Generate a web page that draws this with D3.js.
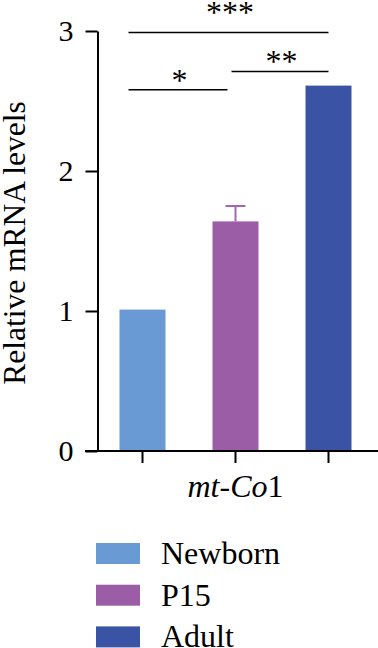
<!DOCTYPE html>
<html>
<head>
<meta charset="utf-8">
<script src="https://cdn.jsdelivr.net/npm/d3@7"></script>
</head>
<body style="margin:0">
<script>
const categories = ["Newborn", "P15", "Adult"];
const values = [1.01, 1.64, 2.61];
const errors = [0, 0.11, 0];
const colors = ["#6a9ad3", "#9b5ea6", "#3a53a4"];
const yTicks = [0, 1, 2, 3];
const geneLabel = ["mt", "-Co1"];
// significance brackets: [from, to, stars, level]
const sigPairs = [
  ["Newborn", "P15", "*", 2.58],
  ["P15", "Adult", "**", 2.71],
  ["Newborn", "Adult", "***", 2.99]
];

const width = 378, height = 648;
const fontFam = "Liberation Serif, Tinos, Times New Roman, serif";

const svg = d3.select("body").append("svg")
  .attr("width", width)
  .attr("height", height);

const y = d3.scaleLinear().domain([0, 3]).range([451, 31]);
const x = d3.scalePoint().domain(categories).range([96, 375]).padding(0.5);
const barW = 46;
const color = d3.scaleOrdinal(categories, colors);

// y axis
const yAxis = svg.append("g")
  .attr("transform", "translate(97.5,0)")
  .call(d3.axisLeft(y).tickValues(yTicks).tickFormat(d3.format("d")).tickSize(12).tickSizeOuter(0));
yAxis.attr("font-family", null).attr("font-size", null);
yAxis.select(".domain").attr("stroke-width", 2);
yAxis.selectAll(".tick line").attr("stroke-width", 2);
yAxis.selectAll(".tick text")
  .attr("x", -24)
  .attr("fill", "#000")
  .style("font-family", fontFam)
  .style("font-size", "30px");

// bars
svg.append("g").selectAll("rect")
  .data(categories)
  .join("rect")
  .attr("x", d => x(d) - barW / 2)
  .attr("y", (d, i) => y(values[i]))
  .attr("width", barW)
  .attr("height", (d, i) => y(0) - y(values[i]))
  .attr("fill", d => color(d));

// error bars
const eb = svg.append("g")
  .selectAll("g")
  .data(categories.filter((d, i) => errors[i] > 0))
  .join("g")
  .attr("stroke", "#a465b2")
  .attr("stroke-width", 2);
const errTop = d => y(values[categories.indexOf(d)] + errors[categories.indexOf(d)]);
eb.append("line")
  .attr("x1", d => x(d)).attr("x2", d => x(d))
  .attr("y1", d => y(values[categories.indexOf(d)]))
  .attr("y2", errTop);
eb.append("line")
  .attr("x1", d => x(d) - 10).attr("x2", d => x(d) + 10)
  .attr("y1", errTop).attr("y2", errTop);

// x axis
const xAxis = svg.append("g")
  .attr("transform", `translate(0,${y(0)})`);
xAxis.append("line")
  .attr("x1", 85).attr("x2", width)
  .attr("stroke", "#000").attr("stroke-width", 2);
xAxis.selectAll(".xt")
  .data(categories)
  .join("line")
  .attr("class", "xt")
  .attr("x1", d => x(d)).attr("x2", d => x(d))
  .attr("y1", 0).attr("y2", 12)
  .attr("stroke", "#000").attr("stroke-width", 2);

const gene = svg.append("text")
  .attr("x", x("P15"))
  .attr("y", 497)
  .attr("text-anchor", "middle")
  .attr("fill", "#000")
  .style("font-family", fontFam)
  .style("font-size", "32px");
gene.append("tspan").style("font-style", "italic").text(geneLabel[0]);
gene.append("tspan").text("-");
gene.append("tspan").style("font-style", "italic").text("Co");
gene.append("tspan").text("1");

// y label
svg.append("text")
  .attr("transform", `translate(25,243) rotate(-90)`)
  .attr("text-anchor", "middle")
  .attr("fill", "#000")
  .style("font-family", fontFam)
  .style("font-size", "31.5px")
  .text("Relative mRNA levels");

// significance
const leftOff = { "Newborn": -14, "P15": -4 };
const rightOff = { "P15": -8, "Adult": 0 };
const starLift = { "*": -1, "**": 0, "***": 9 };
const sig = svg.append("g").selectAll("g").data(sigPairs).join("g");
sig.append("line")
  .attr("x1", d => x(d[0]) + leftOff[d[0]])
  .attr("x2", d => x(d[1]) + rightOff[d[1]])
  .attr("y1", d => y(d[3])).attr("y2", d => y(d[3]))
  .attr("stroke", "#000").attr("stroke-width", 1.5);
sig.append("text")
  .attr("x", d => (x(d[0]) + leftOff[d[0]] + x(d[1]) + rightOff[d[1]]) / 2 + 1.5)
  .attr("y", d => y(d[3]) - starLift[d[2]])
  .attr("text-anchor", "middle")
  .attr("fill", "#000")
  .style("font-family", fontFam)
  .style("font-size", "32px")
  .text(d => d[2]);

// legend
const legend = svg.append("g").selectAll("g")
  .data(categories)
  .join("g")
  .attr("transform", (d, i) => `translate(96,${543 + i * 41.7})`);
legend.append("rect")
  .attr("width", 44).attr("height", 21)
  .attr("fill", d => color(d));
legend.append("text")
  .attr("x", 65).attr("y", 21)
  .attr("fill", "#000")
  .style("font-family", fontFam)
  .style("font-size", "32px")
  .text(d => d);
</script>
</body>
</html>
